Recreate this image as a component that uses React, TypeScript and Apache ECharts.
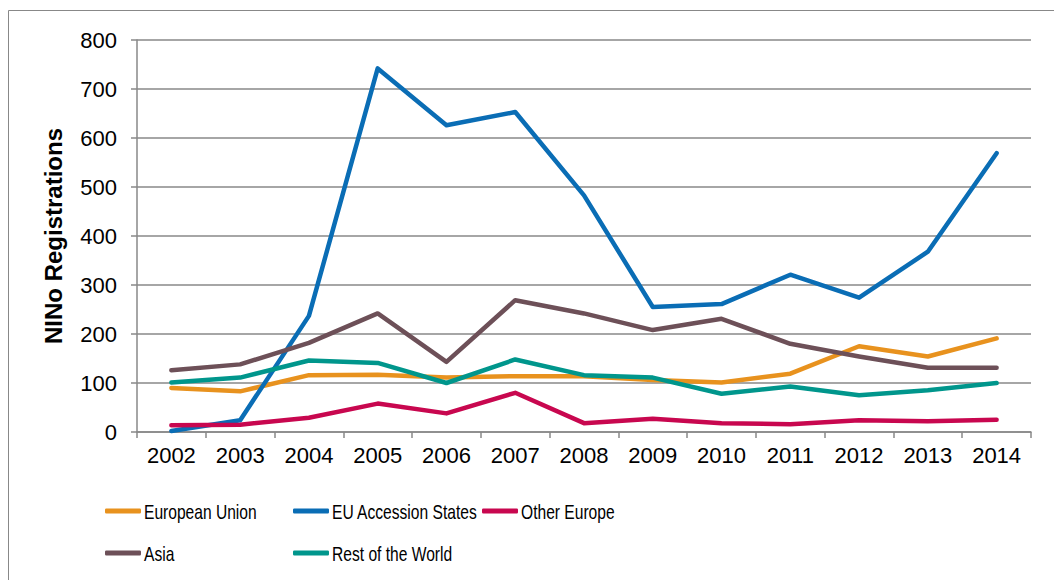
import React, { useEffect, useRef } from "react";
import * as echarts from "echarts";

const years = ["2002","2003","2004","2005","2006","2007","2008","2009","2010","2011","2012","2013","2014"];
const europeanUnion = [90, 83, 116, 117, 111, 114, 114, 106, 101, 119, 175, 154, 191];
const euAccession = [2, 24, 237, 742, 626, 653, 483, 255, 261, 321, 274, 368, 569];
const otherEurope = [14, 15, 29, 58, 38, 80, 18, 27, 18, 16, 24, 22, 25];
const asia = [126, 138, 182, 242, 143, 269, 242, 208, 231, 180, 154, 131, 131];
const restOfWorld = [101, 111, 146, 141, 100, 148, 116, 111, 78, 93, 75, 85, 100];

const seriesNames = ["European Union", "EU Accession States", "Other Europe", "Asia", "Rest of the World"];
const seriesData = [europeanUnion, euAccession, otherEurope, asia, restOfWorld];
const colors = ["#E8921E", "#0A6DB5", "#C8074F", "#6D5058", "#00968C"];

export default function App() {
  const ref = useRef<HTMLDivElement>(null);
  useEffect(() => {
    if (!ref.current) return;
    const chart = echarts.init(ref.current, null, { renderer: "svg" });
    const cols = [105, 293, 482];
    const rows = [511, 553];
    const pos = [
      { c: 0, r: 0 },
      { c: 1, r: 0 },
      { c: 2, r: 0 },
      { c: 0, r: 1 },
      { c: 1, r: 1 },
    ];
    const gray = "#888888";
    chart.setOption({
      animation: false,
      backgroundColor: "#ffffff",
      textStyle: { fontFamily: "Arial, 'Liberation Sans', sans-serif" },
      graphic: [
        {
          type: "rect",
          shape: { x: 8.5, y: 10.5, width: 1200, height: 800 },
          style: { fill: "none", stroke: gray, lineWidth: 1 },
          silent: true,
        },
        ...seriesNames.map((n, i) => ({
          type: "text",
          x: cols[pos[i].c] + 39,
          y: rows[pos[i].r] + 1,
          scaleX: 0.78,
          silent: true,
          style: {
            text: n,
            fill: "#000",
            fontSize: 20,
            fontFamily: "Arial, 'Liberation Sans', sans-serif",
            align: "left",
            verticalAlign: "middle",
          },
        })),
      ],
      legend: seriesNames.map((n, i) => ({
        data: [{ name: n, icon: "roundRect" }],
        left: cols[pos[i].c],
        top: rows[pos[i].r] - 2.5,
        itemWidth: 36,
        itemHeight: 5,
        itemGap: 0,
        padding: 0,
        formatter: () => "",
        textStyle: { fontSize: 4, color: "#000", padding: 0 },
      })),
      grid: { left: 137, right: 23, top: 40, bottom: 148 },
      xAxis: {
        type: "category",
        data: years,
        boundaryGap: true,
        axisLine: { lineStyle: { color: gray, width: 1.5 } },
        axisTick: { show: true, length: 6, lineStyle: { color: gray, width: 1.5 } },
        axisLabel: { color: "#000", fontSize: 22, margin: 12 },
      },
      yAxis: {
        type: "value",
        min: 0,
        max: 800,
        interval: 100,
        name: "NINo Registrations",
        nameLocation: "middle",
        nameRotate: 90,
        nameGap: 72,
        nameTextStyle: { fontSize: 24, fontWeight: "bold", color: "#000" },
        axisLine: { show: true, lineStyle: { color: gray, width: 1.5 } },
        axisTick: { show: true, length: 6, lineStyle: { color: gray, width: 1.5 } },
        axisLabel: { color: "#000", fontSize: 22, margin: 20 },
        splitLine: { lineStyle: { color: gray, width: 1.5 } },
      },
      series: seriesNames.map((n, i) => ({
        name: n,
        type: "line",
        data: seriesData[i],
        symbol: "none",
        showSymbol: false,
        color: colors[i],
        lineStyle: { width: 4.5, color: colors[i], cap: "round", join: "round" },
      })),
    });
    return () => chart.dispose();
  }, []);
  return (
    <div
      ref={ref}
      style={{ position: "fixed", left: 0, top: 0, width: 1054, height: 580 }}
    />
  );
}
